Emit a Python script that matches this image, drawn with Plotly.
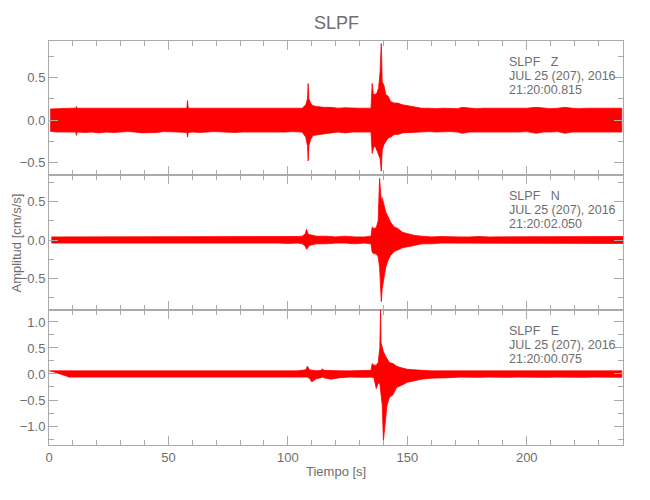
import plotly.graph_objects as go

# ---------------- data (envelopes) ----------------
# Z component
z_t = [0.5, 3, 6, 9, 11.2, 11.5, 11.8, 15, 18, 21, 24, 27, 30, 33, 36, 39, 42, 45, 48, 51, 54, 57.7, 58, 58.3,
       60, 63, 66, 69, 72, 75, 78, 81, 84, 87, 90, 93, 96, 99, 102, 105,
       106, 107.5, 108.2, 108.5, 108.8, 109.5, 110.5, 112, 115, 118, 121, 124, 127, 130, 133,
       134.8, 135.3, 135.8, 136.5, 137.3, 138.0, 138.6, 139.1, 139.5, 140.2, 141, 142, 143,
       144.5, 146, 148, 150, 153, 156, 159, 162, 165, 168, 171, 173, 176, 179, 182, 185, 188,
       191, 194, 197, 200, 204, 207, 210, 213, 216, 219, 222, 225, 228, 231, 234, 237, 239.8]
z_up = [0.13, 0.135, 0.135, 0.14, 0.14, 0.16, 0.14, 0.14, 0.14, 0.135, 0.14, 0.14, 0.135, 0.14, 0.14, 0.135, 0.14, 0.14, 0.135, 0.14, 0.14, 0.14, 0.23, 0.14,
        0.14, 0.14, 0.14, 0.135, 0.14, 0.14, 0.135, 0.14, 0.135, 0.14, 0.135, 0.14, 0.135, 0.135, 0.14, 0.14,
        0.14, 0.18, 0.25, 0.43, 0.25, 0.20, 0.17, 0.16, 0.15, 0.15, 0.14, 0.145, 0.14, 0.14, 0.14,
        0.14, 0.43, 0.30, 0.30, 0.32, 0.38, 0.57, 0.90, 0.45, 0.41, 0.30, 0.28, 0.22,
        0.20, 0.20, 0.18, 0.17, 0.15, 0.14, 0.14, 0.135, 0.14, 0.14, 0.135, 0.15, 0.14, 0.135, 0.14, 0.14, 0.135,
        0.14, 0.135, 0.14, 0.14, 0.15, 0.14, 0.135, 0.14, 0.15, 0.14, 0.135, 0.14, 0.14, 0.135, 0.14, 0.14, 0.14]
z_lo = [-0.13, -0.14, -0.14, -0.14, -0.14, -0.18, -0.14, -0.145, -0.14, -0.15, -0.14, -0.145, -0.14, -0.135, -0.14, -0.15, -0.145, -0.145, -0.135, -0.14, -0.14, -0.145, -0.20, -0.145,
        -0.14, -0.145, -0.14, -0.135, -0.14, -0.14, -0.145, -0.14, -0.135, -0.14, -0.135, -0.135, -0.14, -0.14, -0.135, -0.14,
        -0.14, -0.20, -0.30, -0.48, -0.30, -0.23, -0.18, -0.17, -0.16, -0.15, -0.14, -0.15, -0.14, -0.14, -0.14,
        -0.14, -0.39, -0.33, -0.30, -0.36, -0.40, -0.45, -0.60, -0.35, -0.29, -0.25, -0.21, -0.20,
        -0.17, -0.17, -0.15, -0.15, -0.14, -0.14, -0.135, -0.14, -0.14, -0.135, -0.14, -0.155, -0.14, -0.14, -0.135, -0.14, -0.14,
        -0.135, -0.14, -0.14, -0.135, -0.155, -0.14, -0.14, -0.135, -0.155, -0.14, -0.14, -0.135, -0.14, -0.14, -0.135, -0.14, -0.14]

# N component
n_t = [1, 4, 8, 12, 16, 20, 24, 28, 32, 36, 40, 44, 48, 52, 56, 60, 64, 68, 72, 76, 80, 84, 88, 92, 96, 100, 104,
       106, 107.3, 107.8, 108.3, 109, 110.5, 112, 116, 120, 124, 128, 132,
       134.8, 135.3, 136, 137, 137.8, 138.4, 138.8, 139.1, 139.5, 140.2, 141, 142, 143, 144.5, 146, 148, 150, 153,
       156, 160, 164, 168, 172, 176, 180, 184, 188, 192, 196, 200, 204, 208, 212, 216, 220, 224, 228, 232, 236, 240.3]
n_up = [0.04, 0.04, 0.045, 0.04, 0.04, 0.045, 0.04, 0.04, 0.04, 0.045, 0.04, 0.04, 0.04, 0.04, 0.04, 0.04, 0.045, 0.04, 0.04, 0.04, 0.04, 0.045, 0.04, 0.04, 0.04, 0.04, 0.045,
        0.05, 0.08, 0.14, 0.09, 0.07, 0.06, 0.05, 0.05, 0.04, 0.05, 0.04, 0.04,
        0.05, 0.17, 0.15, 0.16, 0.25, 0.80, 0.65, 0.50, 0.55, 0.46, 0.36, 0.30, 0.23, 0.17, 0.15, 0.10, 0.08, 0.06,
        0.05, 0.04, 0.045, 0.04, 0.04, 0.04, 0.045, 0.04, 0.04, 0.04, 0.04, 0.045, 0.04, 0.04, 0.04, 0.045, 0.04, 0.04, 0.045, 0.04, 0.04, 0.045]
n_lo = [-0.04, -0.04, -0.04, -0.045, -0.04, -0.04, -0.045, -0.04, -0.04, -0.04, -0.04, -0.045, -0.04, -0.04, -0.04, -0.045, -0.04, -0.04, -0.04, -0.04, -0.045, -0.04, -0.04, -0.04, -0.04, -0.045, -0.04,
        -0.05, -0.08, -0.12, -0.10, -0.07, -0.06, -0.05, -0.05, -0.04, -0.04, -0.05, -0.04,
        -0.05, -0.16, -0.18, -0.18, -0.22, -0.35, -0.50, -0.80, -0.63, -0.50, -0.35, -0.26, -0.20, -0.15, -0.13, -0.10, -0.09, -0.07,
        -0.05, -0.05, -0.04, -0.04, -0.045, -0.04, -0.04, -0.04, -0.045, -0.04, -0.04, -0.04, -0.045, -0.04, -0.04, -0.04, -0.045, -0.04, -0.04, -0.04, -0.045, -0.045]

# E component
e_t = [0, 4, 8, 12, 16, 20, 24, 28, 32, 36, 40, 44, 48, 52, 56, 60, 64, 68, 72, 76, 80, 84, 88, 92, 96, 100, 104,
       107.5, 108.2, 109, 110, 112, 114, 114.5, 115, 118, 122, 126, 130, 133,
       134.8, 135.3, 136, 137, 137.8, 138.5, 138.8, 139.0, 139.5, 140, 140.8, 141.5, 142.5, 144, 145.5, 147.5, 150, 153,
       156, 160, 164, 168, 172, 176, 180, 184, 188, 192, 196, 200, 204, 208, 212, 216, 220, 224, 228, 232, 236, 239.8]
e_up = [0.06, 0.06, 0.065, 0.06, 0.06, 0.065, 0.06, 0.06, 0.06, 0.065, 0.06, 0.06, 0.06, 0.06, 0.06, 0.06, 0.065, 0.06, 0.06, 0.06, 0.06, 0.06, 0.06, 0.065, 0.06, 0.06, 0.06,
        0.08, 0.15, 0.08, 0.07, 0.06, 0.07, 0.10, 0.07, 0.06, 0.06, 0.06, 0.06, 0.06,
        0.07, 0.20, 0.17, 0.17, 0.22, 0.50, 1.30, 0.60, 0.50, 0.43, 0.35, 0.30, 0.22, 0.20, 0.15, 0.12, 0.09, 0.08,
        0.07, 0.06, 0.06, 0.065, 0.06, 0.06, 0.06, 0.06, 0.065, 0.06, 0.06, 0.06, 0.06, 0.065, 0.06, 0.06, 0.06, 0.06, 0.065, 0.06, 0.06, 0.06]
e_lo = [-0.06, -0.06, -0.06, -0.065, -0.06, -0.06, -0.06, -0.065, -0.06, -0.06, -0.06, -0.06, -0.065, -0.06, -0.06, -0.06, -0.065, -0.06, -0.06, -0.06, -0.06, -0.065, -0.06, -0.06, -0.06, -0.06, -0.065,
        -0.08, -0.15, -0.09, -0.07, -0.06, -0.07, -0.10, -0.07, -0.06, -0.06, -0.065, -0.06, -0.06,
        -0.07, -0.28, -0.18, -0.18, -0.20, -0.35, -0.60, -1.28, -0.90, -0.60, -0.45, -0.40, -0.26, -0.22, -0.16, -0.13, -0.10, -0.08,
        -0.07, -0.07, -0.06, -0.06, -0.065, -0.06, -0.06, -0.065, -0.06, -0.06, -0.06, -0.065, -0.06, -0.06, -0.06, -0.065, -0.06, -0.06, -0.06, -0.065]

title_text = "SLPF"
x_title = "Tiempo [s]"
y_title = "Amplitud [cm/s/s]"
panel_labels = [
    ["SLPF\u00a0\u00a0\u00a0Z", "JUL 25 (207), 2016", "21:20:00.815"],
    ["SLPF\u00a0\u00a0\u00a0N", "JUL 25 (207), 2016", "21:20:02.050"],
    ["SLPF\u00a0\u00a0\u00a0E", "JUL 25 (207), 2016", "21:20:00.075"],
]
y_ranges = [[-0.645, 0.93], [-0.909, 0.844], [-1.365, 1.23]]
x_range = [0, 240.3]

# ---------------- figure ----------------
FONT = "Liberation Sans, Arial, sans-serif"
GRAY = "#6e6e6e"
AXC = "#aaaaaa"
RED = "#ff0000"

OFF = 8  # page body margin offset in the browser
W, H = 650, 500
# target screen positions of the plot area
SX0, SX1, SY0, SY1 = 48.5, 622.7, 41, 445
L = SX0 - OFF
T = SY0 - OFF
R = W - (SX1 - OFF)
B = H - (SY1 - OFF)
PW, PH = W - L - R, H - T - B


def px(sx):
    return (sx - SX0) / PW


def py(sy):
    return (SY1 - sy) / PH


series = [(z_t, z_up, z_lo), (n_t, n_up, n_lo), (e_t, e_up, e_lo)]
borders = [41, 175, 310, 445]
domains = [[py(borders[i + 1]), py(borders[i])] for i in range(3)]

fig = go.Figure()
for i, (t, up, lo) in enumerate(series):
    ax = "" if i == 0 else str(i + 1)
    xs = list(t) + list(t)[::-1]
    ys = list(up) + list(lo)[::-1]
    fig.add_trace(go.Scatter(x=xs, y=ys, mode="lines", fill="toself",
                             fillcolor=RED, line=dict(color=RED, width=0.8),
                             xaxis="x" + ax, yaxis="y" + ax, hoverinfo="skip",
                             showlegend=False))

layout = dict(
    width=W, height=H,
    margin=dict(l=L, r=R, t=T, b=B, autoexpand=False),
    paper_bgcolor="white", plot_bgcolor="white",
    font=dict(family=FONT, size=13, color=GRAY),
    showlegend=False,
)

for i in range(3):
    ax = "" if i == 0 else str(i + 1)
    layout["xaxis" + ax] = dict(
        domain=[0, 1], anchor="y" + ax, range=x_range, tick0=0, dtick=50,
        ticks="inside", ticklen=9, tickcolor=AXC, tickwidth=1,
        showline=True, linecolor=AXC, linewidth=1, mirror="allticks",
        showgrid=False, zeroline=False, automargin=False,
        showticklabels=(i == 2),
        minor=dict(dtick=10, ticks="inside", ticklen=5, tickcolor=AXC, showgrid=False),
        tickfont=dict(size=13, color=GRAY),
    )
    if i > 0:
        layout["xaxis" + ax]["matches"] = "x"
    layout["yaxis" + ax] = dict(
        domain=domains[i], anchor="x" + ax, range=y_ranges[i], tick0=0, dtick=0.5,
        ticks="inside", ticklen=9, tickcolor=AXC, tickwidth=1,
        showline=True, linecolor=AXC, linewidth=1, mirror="allticks",
        showgrid=False, zeroline=False, tickformat=".1f", automargin=False,
        minor=dict(dtick=0.25, ticks="inside", ticklen=5, tickcolor=AXC, showgrid=False),
        tickfont=dict(size=13, color=GRAY),
    )

annotations = [
    dict(text=title_text, x=0.5, y=py(23), xref="paper", yref="paper", xanchor="center",
         yanchor="middle", showarrow=False, font=dict(size=18, color=GRAY)),
    dict(text=y_title, x=px(15), y=py(243), xref="paper", yref="paper",
         xanchor="center", yanchor="middle", showarrow=False,
         textangle=-90, font=dict(size=13, color=GRAY)),
    dict(text=x_title, x=0.5, y=py(471), xref="paper", yref="paper", xanchor="center",
         yanchor="middle", showarrow=False, font=dict(size=13, color=GRAY)),
]

line_offsets = [20.7, 35, 49.3]
for i, lines in enumerate(panel_labels):
    for j, txt in enumerate(lines):
        annotations.append(dict(
            text=txt, xref="paper", yref="paper",
            x=px(507), y=py(borders[i] + line_offsets[j]), xanchor="left", yanchor="middle",
            showarrow=False, font=dict(size=12.5, color=GRAY)))
layout["annotations"] = annotations

fig.update_layout(**layout)
fig.write_html("out.html")
